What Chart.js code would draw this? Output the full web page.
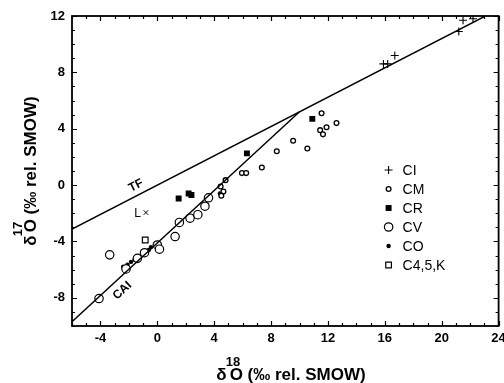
<!DOCTYPE html>
<html>
<head>
<meta charset="utf-8">
<script src="https://cdn.jsdelivr.net/npm/chart.js@4.4.1/dist/chart.umd.min.js"></script>
<style>
  html, body { margin: 0; padding: 0; background: #fff; overflow: hidden; }
  #wrap { width: 504px; height: 383px; position: relative; }
</style>
</head>
<body>
<div id="wrap"><canvas id="c" width="504" height="383"></canvas></div>
<script>
// Oxygen three-isotope diagram: δ17O vs δ18O for carbonaceous chondrite groups
const xTickLabels = [-4, 0, 4, 8, 12, 16, 20, 24];
const yTickLabels = [-8, -4, 0, 4, 8, 12];

const ciPoints = [[15.9, 8.6], [16.2, 8.6], [16.7, 9.2], [21.2, 10.9], [21.5, 11.7], [22.2, 11.8]];
const cmPoints = [[11.55, 5.1], [12.6, 4.4], [11.9, 4.1], [11.45, 3.9], [11.65, 3.6], [9.55, 3.15],
                  [10.55, 2.6], [8.4, 2.4], [7.35, 1.25], [5.95, 0.85], [6.25, 0.85], [4.8, 0.35],
                  [4.45, -0.1], [4.65, -0.45], [4.5, -0.75]];
const crPoints = [[10.9, 4.7], [6.3, 2.25], [1.5, -0.95], [2.2, -0.6], [2.4, -0.7]];
const cvPoints = [[-4.1, -8.05], [-3.35, -4.95], [-2.2, -5.95], [-1.4, -5.2], [-0.9, -4.8], [0.0, -4.25],
                  [0.15, -4.55], [1.25, -3.65], [1.55, -2.65], [2.3, -2.35], [2.85, -2.1], [3.35, -1.5],
                  [3.6, -0.9]];
const coPoints = [[-2.4, -5.8], [-2.1, -5.65], [-1.85, -5.45], [-1.6, -5.3], [-0.6, -4.6], [-0.45, -4.4], [4.4, -0.6]];
const ckPoints = [[-0.85, -3.9]];
const lPoints = [[-0.8, -1.95]];

// Reference lines: terrestrial fractionation (TF) and CAI mixing line
const tfLine = [[-6, -3.12], [23, 11.96]];
const caiLine = [[-6, -9.7], [10, 5.2]];

const FONT = '"Liberation Sans", Arial, Helvetica, sans-serif';
const toXY = arr => arr.map(([x, y]) => ({ x, y }));

const datasets = [
  { label: 'TF', type: 'line', data: toXY(tfLine), borderColor: '#000', borderWidth: 1.5,
    pointRadius: 0, fill: false, inLegend: false },
  { label: 'CAI', type: 'line', data: toXY(caiLine), borderColor: '#000', borderWidth: 1.5,
    pointRadius: 0, fill: false, inLegend: false },
  { label: 'CI', data: toXY(ciPoints), pointStyle: 'cross', pointRadius: 4, borderWidth: 1.1,
    borderColor: '#000', backgroundColor: '#000', inLegend: true },
  { label: 'CM', data: toXY(cmPoints), pointStyle: 'circle', pointRadius: 2.4, borderWidth: 1.3,
    borderColor: '#000', backgroundColor: '#fff', inLegend: true },
  { label: 'CR', data: toXY(crPoints), pointStyle: 'rect', pointRadius: 4.2, borderWidth: 0,
    borderColor: '#000', backgroundColor: '#000', inLegend: true },
  { label: 'CV', data: toXY(cvPoints), pointStyle: 'circle', pointRadius: 4.2, borderWidth: 1.2,
    borderColor: '#000', backgroundColor: '#fff', inLegend: true },
  { label: 'CO', data: toXY(coPoints), pointStyle: 'circle', pointRadius: 2.2, borderWidth: 0,
    borderColor: '#000', backgroundColor: '#000', inLegend: true },
  { label: 'C4,5,K', data: toXY(ckPoints), pointStyle: 'rect', pointRadius: 4, borderWidth: 1.2,
    borderColor: '#000', backgroundColor: '#fff', inLegend: true },
  { label: 'L', data: toXY(lPoints), pointStyle: 'crossRot', pointRadius: 3.2, borderWidth: 1,
    borderColor: '#000', backgroundColor: '#000', inLegend: false }
];

// δ with a raised mass number, followed by the rest of the axis title
function drawDeltaTitle(ctx, cx, baseY, mass) {
  const rest = 'O (‰ rel. SMOW)';
  ctx.font = 'bold 17px ' + FONT;
  const wd = ctx.measureText('δ').width;
  const wr = ctx.measureText(rest).width;
  const gap = 3;
  const x0 = cx - (wd + gap + wr) / 2;
  ctx.textAlign = 'left';
  ctx.textBaseline = 'alphabetic';
  ctx.fillText('δ', x0, baseY);
  ctx.fillText(rest, x0 + wd + gap, baseY);
  ctx.font = 'bold 13px ' + FONT;
  ctx.fillText(mass, x0 + wd - 1, baseY - 14);
}

function drawMarker(ctx, ds, x, y) {
  ctx.save();
  ctx.fillStyle = ds.backgroundColor;
  ctx.strokeStyle = ds.borderColor;
  ctx.lineWidth = ds.borderWidth;
  Chart.helpers.drawPoint(ctx, {
    pointStyle: ds.pointStyle, radius: ds.pointRadius, rotation: 0, borderWidth: ds.borderWidth
  }, x, y);
  ctx.restore();
}

// Rotated text lying along one of the reference lines
function lineLabel(ctx, xs, ys, line, atX, text, offset) {
  const [p0, p1] = line;
  const yAt = p0[1] + (p1[1] - p0[1]) * (atX - p0[0]) / (p1[0] - p0[0]);
  const ax = xs.getPixelForValue(atX), ay = ys.getPixelForValue(yAt);
  const ang = Math.atan2(ys.getPixelForValue(p1[1]) - ys.getPixelForValue(p0[1]),
                         xs.getPixelForValue(p1[0]) - xs.getPixelForValue(p0[0]));
  ctx.save();
  ctx.translate(ax, ay);
  ctx.rotate(ang);
  ctx.font = 'bold 12px ' + FONT;
  ctx.textAlign = 'center';
  ctx.textBaseline = 'alphabetic';
  ctx.fillText(text, 0, offset);
  ctx.restore();
}

const decor = {
  id: 'decor',
  afterDatasetsDraw(chart) {
    const { ctx, chartArea: a, scales: { x, y } } = chart;
    ctx.save();
    ctx.strokeStyle = '#000';
    ctx.fillStyle = '#000';

    // inward tick marks on all four sides
    ctx.lineWidth = 1.2;
    ctx.beginPath();
    for (const t of x.ticks) {
      const px = Math.round(x.getPixelForValue(t.value)) + 0.5;
      const len = t.value % 4 === 0 ? 5 : 3;
      ctx.moveTo(px, a.bottom); ctx.lineTo(px, a.bottom - len);
      ctx.moveTo(px, a.top); ctx.lineTo(px, a.top + len);
    }
    for (const t of y.ticks) {
      const py = Math.round(y.getPixelForValue(t.value)) + 0.5;
      const len = t.value % 4 === 0 ? 5 : 3;
      ctx.moveTo(a.left, py); ctx.lineTo(a.left + len, py);
      ctx.moveTo(a.right, py); ctx.lineTo(a.right - len, py);
    }
    ctx.stroke();

    // plot frame
    ctx.lineWidth = 1.8;
    ctx.strokeRect(a.left, a.top, a.right - a.left, a.bottom - a.top);

    // line labels
    lineLabel(ctx, x, y, tfLine, -1.2, 'TF', -6);
    lineLabel(ctx, x, y, caiLine, -3.0, 'CAI', 14.5);

    // "L" beside its point
    const lp = lPoints[0];
    ctx.font = '12px ' + FONT;
    ctx.textAlign = 'right';
    ctx.textBaseline = 'middle';
    ctx.fillText('L', x.getPixelForValue(lp[0]) - 5, y.getPixelForValue(lp[1]) + 1);

    // legend
    const symX = a.right - 110, txtX = a.right - 96;
    let rowY = a.top + 154;
    for (const ds of chart.data.datasets) {
      if (!ds.inLegend) continue;
      drawMarker(ctx, ds, symX, rowY);
      ctx.fillStyle = '#000';
      ctx.font = '14px ' + FONT;
      ctx.textAlign = 'left';
      ctx.textBaseline = 'middle';
      ctx.fillText(ds.label, txtX, rowY + 1);
      rowY += 19;
    }

    // axis titles
    drawDeltaTitle(ctx, 291, 380, '18');
    ctx.save();
    ctx.translate(36, (a.top + a.bottom) / 2);
    ctx.rotate(-Math.PI / 2);
    drawDeltaTitle(ctx, 0, 0, '17');
    ctx.restore();

    ctx.restore();
  }
};

new Chart(document.getElementById('c'), {
  type: 'scatter',
  data: { datasets },
  options: {
    responsive: false,
    animation: false,
    devicePixelRatio: 1,
    layout: { padding: { left: 32, right: 2, top: 16, bottom: 27 } },
    plugins: { legend: { display: false }, tooltip: { enabled: false } },
    scales: {
      x: {
        type: 'linear', min: -6, max: 24,
        grid: { display: false, drawTicks: false },
        border: { display: false },
        ticks: {
          stepSize: 1, autoSkip: false, maxRotation: 0, padding: 5, color: '#000',
          font: { family: FONT, size: 13, weight: 'bold' },
          callback: v => xTickLabels.includes(v) ? String(v) : ''
        },
        afterFit: s => { s.height = 30; s.paddingLeft = 0; s.paddingRight = 0; }
      },
      y: {
        type: 'linear', min: -10, max: 12,
        grid: { display: false, drawTicks: false },
        border: { display: false },
        ticks: {
          stepSize: 1, autoSkip: false, padding: 7, color: '#000',
          font: { family: FONT, size: 13, weight: 'bold' },
          callback: v => yTickLabels.includes(v) ? String(v) : ''
        },
        afterFit: s => { s.width = 40; s.paddingTop = 0; s.paddingBottom = 0; }
      }
    }
  },
  plugins: [decor]
});
</script>
</body>
</html>
